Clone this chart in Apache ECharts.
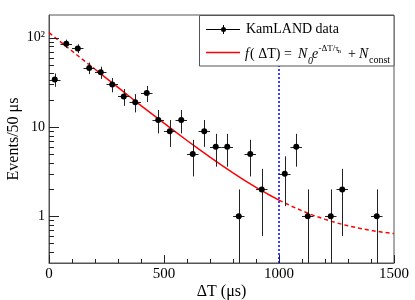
<!DOCTYPE html>
<html><head><meta charset="utf-8">
<script src="https://cdn.jsdelivr.net/npm/echarts@6/dist/echarts.min.js"></script>
<style>html,body{margin:0;padding:0;background:#fff}#c{width:415px;height:300px}</style>
</head><body><div id="c"></div>
<script>
// ---- data ----
const binCenters = [25,75,125,175,225,275,325,375,425,475,525,575,625,675,725,775,825,875,925,1025,1075,1125,1225,1275,1425];
const counts     = [34,86,76,46,41,30,22,19,24,12,9,12,5,9,6,6,1,5,2,3,6,1,1,2,1];
const countErr   = [5.8,9.3,8.7,6.8,6.4,5.5,4.7,4.4,4.9,3.5,3,3.5,2.2,3,2.4,2.4,1,2.2,1.4,1.7,2.4,1,1,1.4,1];
const binHalfWidth = [25,25,25,25,25,25,25,25,25,25,25,25,25,25,25,25,25,25,25,25,25,25,25,25,25];
const fitX = [0,50,100,150,200,250,300,350,400,450,500,550,600,650,700,750,800,850,900,950,1000,1050,1100,1150,1200,1250,1300,1350,1400,1450,1500];
const fitY = [114,90,71.1,56.1,44.4,35.1,27.8,22.0,17.4,13.9,11.05,8.82,7.07,5.69,4.60,3.74,3.07,2.53,2.11,1.78,1.52,1.315,1.153,1.025,0.925,0.845,0.783,0.734,0.695,0.664,0.64];
const fitRange = [200, 1000];
const cutX = 1000;
const xRange = [0, 1500];
const yRange = [0.3, 180];
const xTickValues = [0, 500, 1000, 1500];
const yTickValues = [1, 10, 100];
const yTickLabels = ['1', '10', '10²'];
const yMinorTickValues = [0.4,0.5,0.6,0.7,0.8,0.9,2,3,4,5,6,7,8,9,20,30,40,50,60,70,80,90];
const legendNames = ['KamLAND data'];
const xTitle = 'ΔT (μs)';
const yTitle = 'Events/50 μs';

const FONT = 'Liberation Serif';
const AX = '#555';
const TK = '#222';

const chart = echarts.init(document.getElementById('c'), null, {renderer: 'canvas'});

const pts = binCenters.map((x, i) => [x, counts[i], binHalfWidth[i], countErr[i]]);
const fitPts = fitX.map((x, i) => [x, fitY[i]]);
const fitBefore = fitPts.filter(p => p[0] <= fitRange[0]);
const fitIn = fitPts.filter(p => p[0] >= fitRange[0] && p[0] <= fitRange[1]);
const fitAfter = fitPts.filter(p => p[0] >= fitRange[1]);

const crisp = v => Math.round(v) + 0.5;
const yLabel = v => {
  for (let i = 0; i < yTickValues.length; i++) {
    if (Math.abs(Math.log10(v) - Math.log10(yTickValues[i])) < 1e-6) return yTickLabels[i];
  }
  return '';
};

// y-axis tick marks (major + minor), placed through the y scale
function yTickElements(api) {
  const els = [];
  const add = (v, len) => {
    const p = api.coord([xRange[0], v]);
    const y = crisp(p[1]);
    els.push({type: 'line', z2: 10, shape: {x1: p[0], y1: y, x2: p[0] + len, y2: y}, style: {stroke: TK, lineWidth: 1}});
  };
  yTickValues.forEach(v => add(v, 10));
  yMinorTickValues.forEach(v => add(v, 5));
  return els;
}

const option = {
  animation: false,
  backgroundColor: '#fff',
  textStyle: {fontFamily: FONT},
  grid: {left: 49, right: 21, top: 15, bottom: 37, outerBoundsMode: 'none', containLabel: false,
    show: true, borderColor: AX, borderWidth: 1, backgroundColor: 'transparent'},
  xAxis: {
    type: 'value', min: xRange[0], max: xRange[1], interval: 500,
    axisLine: {lineStyle: {color: AX, width: 1}},
    axisTick: {inside: true, length: 8, lineStyle: {color: TK}},
    minorTick: {show: true, splitNumber: 5, length: 4, lineStyle: {color: TK}},
    splitLine: {show: false},
    axisLabel: {color: '#000', fontFamily: FONT, fontSize: 15, margin: 4,
      formatter: v => xTickValues.indexOf(v) >= 0 ? String(v) : ''}
  },
  yAxis: {
    type: 'log', logBase: 10, min: yRange[0], max: yRange[1],
    axisLine: {show: true, lineStyle: {color: AX, width: 1}},
    axisTick: {show: false},
    splitLine: {show: false},
    axisLabel: {color: '#000', fontFamily: FONT, fontSize: 14, margin: 4,
      showMinLabel: false, showMaxLabel: false, formatter: yLabel}
  },
  series: [
    {
      type: 'line', name: 'fit-pre', data: fitBefore, showSymbol: false, z: 4, silent: true,
      lineStyle: {color: '#ff0000', width: 1.5, type: [4, 3]}
    },
    {
      type: 'line', name: 'fit', data: fitIn, showSymbol: false, z: 4, silent: true,
      lineStyle: {color: '#ff0000', width: 1.5}
    },
    {
      type: 'line', name: 'fit-post', data: fitAfter, showSymbol: false, z: 4, silent: true,
      lineStyle: {color: '#ff0000', width: 1.5, type: [4, 3]},
      markLine: {
        silent: true, symbol: 'none', label: {show: false},
        lineStyle: {color: '#0000ff', width: 1.5, type: [2, 2]},
        data: [{xAxis: cutX}]
      }
    },
    {
      type: 'custom', name: legendNames[0], z: 5, clip: false,
      data: pts,
      renderItem: (params, api) => {
        const x = api.value(0), y = api.value(1), ex = api.value(2), ey = api.value(3);
        const c = api.coord([x, y]);
        const c0 = c[0], c1 = c[1];
        const l = api.coord([x - ex, y])[0];
        const r = api.coord([x + ex, y])[0];
        const t = api.coord([x, y + ey])[1];
        const lo = Math.max(y - ey, yRange[0]);
        const b = api.coord([x, lo])[1];
        const cx = crisp(c0), cy = crisp(c1);
        const children = [
          {type: 'line', shape: {x1: l, y1: cy, x2: r, y2: cy}, style: {stroke: '#222', lineWidth: 1}},
          {type: 'line', shape: {x1: cx, y1: t, x2: cx, y2: b}, style: {stroke: '#222', lineWidth: 1}},
          {type: 'circle', shape: {cx: c0, cy: c1, r: 3}, style: {fill: '#000'}}
        ];
        if (params.dataIndex === 0) children.push.apply(children, yTickElements(api));
        return {type: 'group', children: children};
      }
    }
  ],
  graphic: [
    {type: 'text', z: 101, style: {x: 221.5, y: 292, text: xTitle, font: '16px "Liberation Serif"', fill: '#000', verticalAlign: 'middle', align: 'center'}},
    {type: 'text', z: 101, x: 14, y: 139, rotation: Math.PI / 2, style: {x: 0, y: 0, text: yTitle, font: '16px "Liberation Serif"', fill: '#000', verticalAlign: 'middle', align: 'center'}},
    {type: 'rect', z: 100, shape: {x: 199.5, y: 15.5, width: 194.5, height: 50.5}, style: {fill: '#fff', stroke: AX, lineWidth: 1}},
    {type: 'line', z: 101, shape: {x1: 206, y1: 29.5, x2: 240, y2: 29.5}, style: {stroke: '#000', lineWidth: 1}},
    {type: 'line', z: 101, shape: {x1: 223.5, y1: 25, x2: 223.5, y2: 34}, style: {stroke: '#000', lineWidth: 1}},
    {type: 'circle', z: 101, shape: {cx: 223.5, cy: 29.5, r: 2.5}, style: {fill: '#000'}},
    {type: 'text', z: 101, style: {x: 246, y: 29, text: legendNames[0], font: '14px "Liberation Serif"', fill: '#000', verticalAlign: 'middle', align: 'left'}},
    {type: 'line', z: 101, shape: {x1: 206, y1: 52.5, x2: 240, y2: 52.5}, style: {stroke: '#ff0000', lineWidth: 1.5}},
    {type: 'text', z: 101, style: {x: 245, y: 54, text: 'f', font: 'italic 14px "Liberation Serif"', fill: '#000', verticalAlign: 'middle', align: 'left'}},
    {type: 'text', z: 101, style: {x: 250, y: 54, text: '( ΔT) = ', font: '14px "Liberation Serif"', fill: '#000', verticalAlign: 'middle', align: 'left'}},
    {type: 'text', z: 101, style: {x: 298, y: 54, text: 'N', font: 'italic 14px "Liberation Serif"', fill: '#000', verticalAlign: 'middle', align: 'left'}},
    {type: 'text', z: 101, style: {x: 308, y: 61.5, text: '0', font: 'italic 10px "Liberation Serif"', fill: '#000', verticalAlign: 'middle', align: 'left'}},
    {type: 'text', z: 101, style: {x: 312, y: 54, text: 'e', font: 'italic 14px "Liberation Serif"', fill: '#000', verticalAlign: 'middle', align: 'left'}},
    {type: 'text', z: 101, style: {x: 318.5, y: 49, text: '-ΔT/τ', font: '9px "Liberation Serif"', fill: '#000', verticalAlign: 'middle', align: 'left'}},
    {type: 'text', z: 101, style: {x: 337.5, y: 51, text: 'n', font: '7px "Liberation Serif"', fill: '#000', verticalAlign: 'middle', align: 'left'}},
    {type: 'text', z: 101, style: {x: 348, y: 54, text: '+', font: '14px "Liberation Serif"', fill: '#000', verticalAlign: 'middle', align: 'left'}},
    {type: 'text', z: 101, style: {x: 359, y: 54, text: 'N', font: 'italic 14px "Liberation Serif"', fill: '#000', verticalAlign: 'middle', align: 'left'}},
    {type: 'text', z: 101, style: {x: 369, y: 60, text: 'const', font: '10px "Liberation Serif"', fill: '#000', verticalAlign: 'middle', align: 'left'}}
  ]
};
chart.setOption(option);
</script>
</body></html>
